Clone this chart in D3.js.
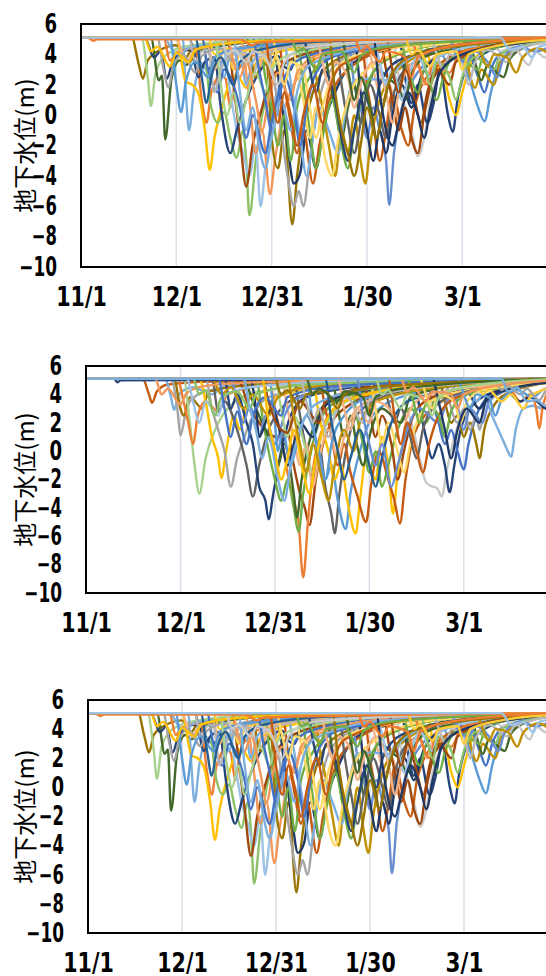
<!DOCTYPE html>
<html>
<head>
<meta charset="utf-8">
<script src="https://cdn.jsdelivr.net/npm/d3@7"></script>
<style>
  html, body { margin: 0; padding: 0; background: #fff; overflow: hidden; }
  svg { display: block; }
  .tick text {
    font-family: "DejaVu Sans Condensed", "DejaVu Sans", sans-serif;
    font-weight: bold;
    font-size: 26px;
    fill: #000;
  }
  .ylab { font-family: "Noto Sans CJK JP", sans-serif; font-size: 24px; fill: #000; }
</style>
</head>
<body>
<div id="chart"></div>
<script>
// x runs 11/1 .. 3/31, ticks every 30 days (3/31 lies past the right edge)
const startDate = "2018-11-01";
const endDate = "2019-03-31";
const xTicks = ["2018-11-01", "2018-12-01", "2018-12-31", "2019-01-30", "2019-03-01"];
const xTickLabels = ["11/1", "12/1", "12/31", "1/30", "3/1"];
const yTicks = [6, 4, 2, 0, -2, -4, -6, -8, -10];
const yLabel = "地下水位(m)";

// excel-ish series palette
const palette = [
  "#4472C4", "#ED7D31", "#A5A5A5", "#FFC000", "#5B9BD5", "#70AD47",
  "#264478", "#9E480E", "#636363", "#997300", "#255E91", "#43682B",
  "#698ED0", "#F1975A", "#B7B7B7", "#FFCD33", "#7CAFDD", "#8CC168",
  "#A9D18E", "#C55A11", "#F4B183", "#FFD966", "#9DC3E6", "#C9C9C9",
  "#BF9000", "#203864"
];

// wells of the 1st (and 3rd) chart: [day since 11/1, level, day, level, ...]
const wellsA = [
  [0,5.1, 16,5.1, 18,3.5, 19.5,2.4, 21,3.6, 25,4.3, 30,4.6, 33,3.8, 35,4.4, 45,4.8, 70,5.0, 150,5.1],
  [0,5.1, 19,5.1, 21,2.5, 22,0.6, 23.5,2.8, 27,4.0, 35,4.6, 60,5.0, 150,5.1],
  [0,5.1, 22,5.1, 24.5,2.3, 25.5,2.6, 26.5,-1.6, 28.5,2.4, 31,3.6, 33,3.3, 37,4.2, 45,4.6, 70,5.0, 150,5.1],
  [0,5.1, 20,5.1, 23,3.8, 25,4.2, 27,2.4, 29,3.6, 34,4.3, 40,3.0, 43,4.0, 55,4.6, 90,5.0, 150,5.1],
  [0,5.1, 32,5.1, 33,1.5, 34,-1.0, 35.5,1.5, 38,3.4, 42,2.0, 45,3.6, 55,4.4, 80,4.9, 150,5.1],
  [0,5.1, 26,5.1, 28,3.6, 30,4.1, 36,4.4, 38,1.0, 39.5,-0.5, 41,1.5, 44,2.6, 45.5,2.4, 47,0.5, 49,2.8, 55,4.0, 80,4.8, 150,5.1],
  [0,5.1, 30,5.1, 33,2.2, 35,2.0, 37,1.4, 39,-1.0, 40.5,-3.6, 42,-1.5, 45,1.0, 48,2.6, 50,2.4, 52,1.8, 55,3.4, 65,4.3, 100,5.0, 150,5.1],
  [0,5.1, 38,5.1, 41,0.5, 43,-0.5, 45,0.2, 47,-1.5, 49,-2.8, 51,-1.0, 52,-3.0, 53,-6.6, 55,-3.0, 57,0.0, 60,2.0, 65,3.5, 80,4.5, 120,5.0, 150,5.1],
  [0,5.1, 44,5.1, 47,1.5, 49,-1.0, 51,-2.5, 53,-4.0, 55,-2.0, 56.5,-6.0, 58,-3.5, 60,0.0, 64,2.5, 72,4.0, 100,4.9, 150,5.1],
  [0,5.1, 46,5.1, 48,2.0, 50,-1.5, 52,-4.7, 54,-2.0, 57,0.5, 60,2.5, 70,4.0, 100,4.9, 150,5.1],
  [0,5.1, 50,5.1, 53,1.0, 55,-2.5, 57,-1.0, 59.5,-5.2, 61,-3.0, 63,-0.5, 67,2.0, 75,3.8, 110,4.9, 150,5.1],
  [0,5.1, 34,5.1, 37,2.5, 39,3.5, 42,3.8, 44,0.5, 47,-2.5, 49,-1.0, 52,1.0, 56,2.8, 62,3.9, 64,3.2, 66,3.0, 68,4.2, 90,4.8, 150,5.1],
  [0,5.1, 52,5.1, 55,2.5, 57,3.5, 58.5,3.3, 60,-1.5, 62,-3.5, 64,-1.0, 66.5,-7.2, 68,-4.0, 70,-1.0, 73,1.5, 78,3.3, 90,4.3, 120,5.0, 150,5.1],
  [0,5.1, 58,5.1, 61,2.0, 63,-1.0, 65,-4.0, 67,-6.0, 68.5,-5.0, 70,-6.0, 72,-3.0, 74,0.0, 78,2.8, 88,4.2, 120,5.0, 150,5.1],
  [0,5.1, 60,5.1, 63,1.0, 65,-2.0, 67,-4.5, 69,-3.8, 71,-1.0, 74,-3.5, 76,-1.0, 80,1.5, 86,3.5, 110,4.8, 150,5.1],
  [0,5.1, 62,5.1, 64,2.0, 66,-0.5, 68,-2.5, 70,-1.0, 73,-4.5, 75,-2.0, 78,0.8, 84,3.0, 100,4.5, 150,5.1],
  [0,5.1, 56,5.1, 58,2.5, 60,0.5, 62,-2.0, 64,0.0, 66,-3.0, 68,0.5, 72,2.5, 80,4.0, 120,5.0, 150,5.1],
  [0,5.1, 84,5.1, 86,2.0, 88,0.5, 90,-1.5, 92,0.5, 94,-1.0, 96,-3.0, 97,-5.9, 98.5,-2.5, 101,0.5, 105,2.5, 112,3.8, 130,4.8, 150,5.1],
  [0,5.1, 72,5.1, 74,2.5, 76,0.5, 78,-2.0, 80,-4.0, 82,-1.0, 84,-2.5, 86,0.0, 88,-3.0, 89.5,-4.5, 91,-2.0, 94,1.0, 100,3.0, 115,4.5, 150,5.1],
  [0,5.1, 98,5.1, 100,2.5, 102,0.5, 104,-1.0, 106,-2.7, 108,-1.5, 110,1.0, 114,3.0, 125,4.5, 150,5.1],
  [0,5.1, 100,5.1, 102,2.5, 104,0.8, 106,2.0, 109,-0.5, 111,0.8, 113,3.0, 115.5,0.0, 117,-1.1, 118.5,1.0, 122,3.2, 135,4.7, 150,5.1],
  [0,5.1, 108,5.1, 111,2.5, 113,3.5, 116,1.0, 118,0.0, 120,1.5, 123,3.5, 130,4.5, 150,5.1],
  [0,5.1, 112,5.1, 115,3.5, 118,4.0, 122,2.5, 125,0.5, 127,-0.4, 129,1.5, 132,3.5, 140,4.5, 150,5.0],
  [0,5.1, 118,5.1, 120,3.5, 122,4.0, 125,2.5, 127,1.5, 129,3.0, 133,4.2, 145,4.8, 150,5.0],
  [0,5.1, 76,5.1, 78,2.5, 80,0.5, 82,-1.5, 84,0.5, 86,2.0, 88,-0.5, 90,1.5, 93,3.0, 100,2.0, 103,3.8, 120,4.7, 150,5.1],
  [0,5.1, 88,5.1, 90,2.0, 92,-0.5, 94,-3.0, 96,-1.0, 98,1.5, 101,-1.0, 103,-2.0, 105,0.5, 110,2.8, 125,4.5, 150,5.1],
  [0,5.1, 90,5.1, 92,3.0, 95,1.0, 97,2.0, 100,-0.5, 102,1.5, 106,3.2, 108,2.0, 111,3.8, 130,4.8, 150,5.1],
  [0,5.1, 80,5.1, 82,2.0, 84,-0.5, 86,-2.5, 88,-0.5, 91,2.0, 94,0.0, 96,-1.5, 98,1.0, 102,3.0, 120,4.7, 150,5.1],
  [0,5.1, 64,5.1, 65,3.5, 67,1.0, 69,-1.5, 71,-4.0, 73,-1.5, 75,0.5, 78,-1.0, 81,-2.5, 83,0.0, 86,2.3, 90,2.4, 96,2.3, 100,3.2, 110,4.3, 150,5.1],
  [0,5.1, 68,5.1, 70,2.0, 72,-1.0, 74,-3.5, 76,-1.5, 79,1.0, 82,-2.0, 84,-3.5, 86,-1.0, 90,2.0, 95,3.5, 115,4.7, 150,5.1],
  [0,5.1, 66,5.1, 68,3.0, 70,1.0, 72,-1.5, 74,0.5, 77,-3.0, 79,-4.0, 81,-1.5, 84,1.0, 90,3.0, 110,4.6, 150,5.1],
  [0,5.1, 94,5.1, 96,3.0, 98,1.0, 100,-1.0, 102,0.5, 104,-1.5, 106,-2.5, 108,0.0, 111,2.5, 118,3.8, 135,4.8, 150,5.1],
  [0,5.1, 86,5.1, 88,1.5, 90,-1.0, 92,-3.0, 94,-1.0, 96,-2.5, 98,0.0, 101,2.0, 104,0.5, 107,2.5, 112,3.8, 130,4.8, 150,5.1],
  [0,5.1, 120,5.1, 122,3.0, 124,1.8, 126,3.0, 130,2.0, 132,3.5, 137,4.3, 145,4.8, 150,5.0],
  [0,5.1, 122,5.1, 124,3.5, 126,2.3, 128,3.3, 133,2.5, 135,3.7, 140,4.5, 150,5.0],
  [0,5.1, 128,5.1, 132,4.2, 136,4.5, 141,3.3, 143,4.2, 146,3.8, 150,4.3],
  [0,5.1, 26,5.1, 30,4.0, 35,4.5, 43,4.6, 45,2.5, 47,4.0, 50,4.2, 52,2.0, 54,3.5, 60,4.6, 80,5.0, 150,5.1],
  [0,5.1, 38,5.1, 40,3.0, 43,1.5, 45,3.0, 50,0.5, 52,-1.5, 54,0.0, 58,-2.5, 60,-0.5, 63,2.0, 70,3.8, 100,4.9, 150,5.1],
  [0,5.1, 30,5.1, 33,3.5, 36,4.3, 40,4.5, 42,3.0, 45,4.2, 54,4.5, 56,3.2, 58,4.2, 70,4.7, 150,5.1],
  [0,5.1, 40,5.1, 42,4.0, 46,4.4, 48,3.0, 50,4.0, 55,4.4, 60,3.2, 62,4.3, 80,4.8, 150,5.1],
  [0,5.1, 34,5.1, 36,3.5, 38,4.2, 40,4.3, 42,1.5, 44,3.0, 48,4.0, 52,4.1, 54,2.5, 56,3.8, 70,4.6, 150,5.1],
  [0,5.1, 100,5.1, 103,3.0, 106,1.5, 108,3.0, 112,1.0, 114,2.5, 118,4.0, 125,3.0, 127,4.2, 140,4.8, 150,5.1],
  [0,5.1, 104,5.1, 106,3.5, 109,2.0, 111,3.5, 116,2.8, 119,4.0, 130,4.7, 150,5.1],
  [0,5.1, 24,5.1, 26,3.0, 27.5,1.8, 29,3.2, 32,4.0, 36,2.8, 38,3.9, 44,4.4, 48,3.5, 50,4.3, 70,4.8, 150,5.1],
  [0,5.1, 28,5.1, 30,2.0, 31.5,0.2, 33,2.2, 36,3.5, 40,2.5, 42,3.8, 50,4.4, 90,5.0, 150,5.1],
  [0,5.1, 42,5.1, 44,2.0, 46,0.0, 48,1.5, 50,-0.5, 52,1.0, 55,2.8, 58,1.5, 60,3.0, 66,4.0, 100,4.9, 150,5.1],
  [0,5.1, 46,5.1, 48,3.5, 50,2.5, 52,3.5, 55,1.0, 57,-1.0, 59,1.0, 62,2.8, 66,1.0, 68,2.8, 75,4.0, 110,4.9, 150,5.1],
  [0,5.1, 54,5.1, 56,3.0, 58,1.0, 60,-1.0, 62,0.5, 64,2.5, 67,0.5, 69,-2.0, 71,0.5, 74,2.8, 80,3.9, 110,4.8, 150,5.1],
  [0,5.1, 60,5.1, 62,3.5, 64,2.0, 66,3.5, 70,3.0, 72,0.5, 74,-1.5, 76,0.5, 79,2.5, 85,3.8, 120,4.9, 150,5.1],
  [0,5.1, 70,5.1, 72,3.0, 74,1.5, 76,3.0, 80,1.0, 82,-1.5, 84,-3.0, 86,-1.0, 89,1.5, 92,0.0, 94,2.0, 100,3.6, 125,4.8, 150,5.1],
  [0,5.1, 74,5.1, 76,3.5, 78,2.0, 80,3.5, 84,2.5, 86,0.5, 88,2.0, 92,3.5, 96,1.5, 98,-0.5, 100,1.5, 104,3.3, 120,4.5, 150,5.1],
  [0,5.1, 82,5.1, 84,3.0, 86,1.0, 88,2.5, 91,0.5, 93,-1.5, 95,0.5, 98,2.5, 102,1.0, 104,2.8, 110,4.0, 135,4.8, 150,5.1],
  [0,5.1, 92,5.1, 94,3.5, 96,2.0, 98,3.0, 101,1.0, 103,2.5, 106,3.8, 110,2.5, 112,3.8, 125,4.6, 150,5.1],
  [0,5.1, 96,5.1, 98,3.0, 100,1.5, 102,3.0, 105,1.0, 107,-0.5, 109,1.5, 112,3.0, 116,2.0, 118,3.5, 130,4.6, 150,5.1],
  [0,5.1, 106,5.1, 108,3.5, 110,2.0, 112,3.5, 116,2.5, 118,1.0, 120,2.5, 124,3.8, 130,3.0, 132,4.0, 145,4.8, 150,5.0],
  [0,5.1, 110,5.1, 112,4.0, 114,3.0, 116,4.0, 120,3.5, 122,2.0, 124,3.5, 128,4.3, 134,3.5, 136,4.2, 150,4.9],
  [0,5.1, 116,5.1, 118,4.0, 121,3.5, 124,4.2, 128,3.5, 131,2.5, 133,3.8, 138,4.5, 143,4.2, 150,4.8],
  [0,5.1, 124,5.1, 126,4.0, 128,3.2, 130,4.0, 134,3.8, 137,2.8, 139,3.8, 144,4.4, 148,4.0, 150,4.4],
  [0,5.1, 36,5.1, 38,2.5, 39.5,0.8, 41,2.5, 44,3.8, 48,2.0, 50,3.5, 56,4.3, 80,4.9, 150,5.1],
  [0,5.1, 48,5.1, 50,1.5, 52,-1.0, 54,0.5, 56,-2.0, 58,-3.5, 60,-1.5, 63,1.0, 66,-1.0, 68,1.5, 72,3.3, 95,4.6, 150,5.1],
  [0,5.1, 58,5.1, 60,1.5, 62,-0.5, 64,1.5, 66,0.0, 68,-2.0, 70,0.0, 73,2.0, 76,-0.5, 78,1.5, 82,3.3, 105,4.7, 150,5.1],
  [0,5.1, 78,5.1, 80,1.5, 82,-1.0, 84,-2.5, 86,-4.0, 88,-2.0, 90,0.5, 93,-1.5, 95,0.5, 98,2.8, 105,4.0, 130,4.8, 150,5.1],
  [0,5.1, 92,5.1, 94,1.5, 96,-1.0, 98,-2.0, 100,-0.5, 103,1.5, 106,0.0, 108,-1.5, 110,0.5, 113,2.8, 120,4.0, 140,4.8, 150,5.1],
  [0,5.1, 20,5.1, 22,4.2, 24,4.5, 28,3.2, 30,4.1, 34,3.5, 36,4.3, 45,4.7, 60,4.9, 150,5.1],
  [0,5.1, 44,5.1, 46,4.0, 48,4.3, 52,3.5, 54,4.2, 58,3.8, 62,2.0, 64,3.5, 70,4.4, 90,4.8, 150,5.1],
  [0,5.1, 66,5.1, 68,4.2, 70,4.4, 74,3.0, 76,4.0, 82,4.2, 86,2.8, 88,3.9, 96,4.5, 150,5.1],
  [0,5.1, 86,5.1, 88,4.2, 90,4.5, 94,3.5, 96,4.2, 102,3.8, 104,2.5, 106,3.8, 115,4.5, 150,5.1],
  [0,5.1, 102,5.1, 104,4.0, 106,4.3, 110,3.2, 112,4.0, 118,4.2, 120,3.0, 122,4.0, 132,4.6, 150,5.0],
  [0,5.1, 2,5.1, 4,4.9, 5,5.0, 50,5.0, 54,4.6, 56,4.8, 150,5.1],
  [0,5.1, 132,5.1, 135,4.3, 139,4.5, 142,3.8, 144,4.5, 150,4.7]
];
const wellsAColor = [9, 18, 11, 6, 16, 1, 3, 17, 22, 7, 13, 6, 9, 2, 25, 19, 5, 12, 24, 23, 6, 3,
  4, 0, 11, 19, 20, 8, 16, 5, 21, 7, 25, 24, 11, 23, 16, 0, 20, 15, 14, 5, 1,
  2, 4, 18, 13, 0, 21, 6, 20, 11, 22, 7, 17, 14, 12, 24, 10, 16, 19, 9, 25, 3, 23, 5, 1, 15, 1, 22];

// wells of the 2nd chart
const wellsB = [
  [0,5.1, 18,5.1, 20,4.0, 21,3.4, 22.5,4.2, 26,4.7, 40,4.9, 150,5.1],
  [0,5.1, 25,5.1, 27,3.8, 28,2.9, 29.5,4.0, 34,4.5, 40,4.0, 44,4.6, 70,4.9, 150,5.1],
  [0,5.1, 27,5.1, 29,3.0, 30,1.1, 31.5,2.5, 33,3.5, 38,4.2, 60,4.8, 150,5.1],
  [0,5.1, 28,5.1, 30,3.0, 31,2.5, 33,3.8, 37,3.0, 39,4.2, 55,4.7, 150,5.1],
  [0,5.1, 31,5.1, 33,2.0, 34.5,-1.0, 36,-3.0, 38,-0.5, 41,1.5, 45,3.0, 55,4.2, 90,4.9, 150,5.1],
  [0,5.1, 29,5.1, 31,3.5, 32.5,2.0, 34,0.5, 35.5,2.5, 38,3.5, 42,2.8, 45,4.0, 60,4.7, 150,5.1],
  [0,5.1, 36,5.1, 38,3.5, 40,1.0, 42,-0.5, 43,-1.9, 44.5,0.0, 47,2.5, 49,1.5, 51,3.0, 56,2.0, 60,3.8, 80,4.6, 150,5.1],
  [0,5.1, 38,5.1, 40,3.0, 42,1.5, 44,0.0, 46,-2.5, 48,-0.5, 50,0.8, 53,2.5, 58,3.8, 80,4.7, 150,5.1],
  [0,5.1, 40,5.1, 42,2.8, 44,3.5, 48,1.5, 51,-1.0, 53,-3.2, 55,-1.0, 58,1.5, 62,3.0, 70,4.0, 100,4.8, 150,5.1],
  [0,5.1, 44,5.1, 46,3.0, 48,4.0, 51,2.0, 53,0.5, 55,-2.5, 57,-3.5, 58,-4.8, 59.5,-3.0, 62,0.0, 65,2.5, 70,3.8, 90,4.6, 150,5.1],
  [0,5.1, 48,5.1, 52,3.0, 55,2.0, 58,1.2, 61,1.0, 64,1.3, 66,-1.0, 68,-3.0, 69.5,-4.0, 71,-5.2, 73,-2.0, 76,1.0, 82,3.0, 100,4.5, 150,5.1],
  [0,5.1, 58,5.1, 60,3.0, 62,1.0, 64,-1.5, 66,-3.5, 67.5,-5.0, 69,-8.9, 70.5,-5.0, 72,-1.5, 75,1.5, 80,3.2, 95,4.4, 150,5.1],
  [0,5.1, 54,5.1, 56,2.5, 58,0.0, 60,-2.0, 62,-3.5, 64,-2.0, 66,-4.0, 67.5,-5.7, 69,-3.0, 72,0.5, 76,2.8, 85,4.0, 110,4.8, 150,5.1],
  [0,5.1, 50,5.1, 53,3.5, 56,2.0, 59,0.5, 61,-1.0, 63,0.5, 66,-3.0, 67,-4.7, 68.5,-2.0, 72,1.5, 76,3.3, 90,4.3, 150,5.1],
  [0,5.1, 66,5.1, 68,2.5, 70,0.0, 72,-2.0, 74,0.5, 76,-2.5, 78,-4.5, 79,-5.8, 80.5,-3.0, 83,0.5, 87,2.8, 100,4.2, 150,5.1],
  [0,5.1, 70,5.1, 72,2.0, 74,-0.5, 76,-2.0, 78,-1.0, 80,-3.5, 82.5,-5.5, 84,-3.0, 87,0.0, 91,2.5, 100,3.8, 120,4.7, 150,5.1],
  [0,5.1, 72,5.1, 74,2.5, 77,0.0, 79,-2.0, 81,-1.0, 83,-3.5, 85.7,-5.8, 87,-3.5, 89,-0.5, 92,-2.0, 94,1.0, 96,-1.0, 97.5,-4.4, 99,-1.5, 102,1.5, 108,3.5, 130,4.7, 150,5.1],
  [0,5.1, 74,5.1, 76,3.0, 78,1.0, 80,-1.0, 82,0.5, 84,-1.5, 86,-3.0, 89,-5.0, 90.5,-2.5, 93,0.0, 96,-2.0, 98,-3.5, 99.7,-5.1, 101.5,-2.0, 104,1.0, 110,3.0, 125,4.5, 150,5.1],
  [0,5.1, 100,5.1, 102,3.0, 104,1.5, 106,-0.5, 108,-2.2, 110,-2.5, 111.5,-2.6, 113,-3.2, 114.5,-1.5, 117,1.0, 121,3.0, 135,4.5, 150,5.1],
  [0,5.1, 104,5.1, 106,3.0, 108,1.0, 110,-0.5, 112,0.5, 114,-1.0, 115.5,-2.9, 117,-1.0, 119,1.5, 122,3.0, 130,4.2, 150,4.9],
  [0,5.1, 108,5.1, 110,3.5, 112,2.0, 114,0.5, 116,1.5, 118,0.0, 120,-1.3, 121.5,0.5, 124,2.5, 128,3.8, 140,4.6, 150,5.0],
  [0,5.1, 112,5.1, 114,3.5, 116,2.0, 118,2.5, 120,1.0, 122,2.0, 124,0.5, 125,-0.5, 126.5,1.5, 129,3.0, 135,4.2, 150,4.9],
  [0,5.1, 122,5.1, 124,3.5, 126,4.0, 129,2.5, 132,1.0, 134,0.0, 135,-0.4, 136.5,1.5, 139,3.0, 142,3.2, 145,3.0, 148,3.6, 150,3.8],
  [0,5.1, 128,5.1, 131,4.0, 134,4.5, 138,3.5, 141,4.0, 143,3.0, 144,1.6, 145,3.0, 147,4.2, 150,4.5],
  [0,5.1, 114,5.1, 116,3.0, 118,2.0, 120,3.0, 122,1.5, 124,2.5, 125,1.5, 127,3.5, 132,4.2, 150,4.9],
  [0,5.1, 120,5.1, 122,4.0, 125,3.0, 128,4.0, 133,4.3, 138,3.5, 141,3.8, 146,3.0, 148,2.8, 150,3.2],
  [0,5.1, 116,5.1, 118,3.2, 120,1.5, 122,3.0, 126,2.0, 128,3.5, 134,4.3, 150,5.0],
  [0,5.1, 84,5.1, 86,2.5, 88,0.5, 90,-1.5, 92,0.0, 94,-2.5, 96,-1.0, 99,1.5, 103,3.0, 108,2.0, 111,3.6, 130,4.7, 150,5.1],
  [0,5.1, 88,5.1, 90,3.0, 92,1.0, 94,2.5, 97,0.5, 99,-2.0, 101,0.0, 104,2.5, 110,3.8, 130,4.7, 150,5.1],
  [0,5.1, 78,5.1, 80,3.0, 82,1.0, 84,2.5, 86,0.5, 88,-1.0, 90,1.0, 94,3.0, 100,2.0, 103,3.8, 120,4.7, 150,5.1],
  [0,5.1, 62,5.1, 64,3.0, 66,1.0, 68,-1.0, 70,0.5, 72,-2.5, 74,-0.5, 77,1.5, 80,-0.5, 82,1.0, 86,3.0, 100,4.3, 150,5.1],
  [0,5.1, 46,5.1, 48,3.5, 50,2.0, 52,3.2, 55,1.0, 57,2.5, 60,0.5, 63,2.5, 68,3.8, 90,4.7, 150,5.1],
  [0,5.1, 52,5.1, 54,3.0, 55,1.0, 57,2.0, 59,3.0, 62,1.0, 64,-1.0, 66,0.5, 68,2.0, 72,1.0, 75,3.0, 85,4.2, 120,4.9, 150,5.1],
  [0,5.1, 58,5.1, 60,2.0, 61,0.0, 62.5,1.5, 65,-1.0, 67,0.5, 70,2.5, 74,0.0, 76,-2.0, 78,0.5, 82,2.5, 90,3.8, 120,4.8, 150,5.1],
  [0,5.1, 90,5.1, 92,3.0, 94,0.5, 96,2.0, 99,0.0, 101,-1.5, 103,0.5, 106,2.5, 112,3.8, 135,4.7, 150,5.1],
  [0,5.1, 94,5.1, 96,3.5, 98,2.0, 100,3.0, 103,1.0, 105,-0.5, 107,1.5, 110,3.0, 118,4.0, 140,4.8, 150,5.0],
  [0,5.1, 60,5.1, 62,3.0, 64,1.0, 66,2.5, 70,0.0, 72,-1.5, 74,0.5, 78,2.5, 86,3.8, 110,4.7, 150,5.1],
  [0,5.1, 40,5.1, 43,4.0, 46,4.5, 50,3.0, 53,4.0, 58,2.5, 61,3.8, 70,4.5, 150,5.1],
  [0,5.1, 56,5.1, 58,3.5, 60,2.2, 62,1.5, 64,1.3, 66,2.5, 68,3.5, 74,2.0, 76,3.5, 90,4.5, 150,5.1],
  [0,5.1, 9,5.1, 10,4.85, 11,5.0, 150,5.1],
  [0,5.1, 22,5.1, 24,4.0, 26,4.4, 30,3.3, 32,4.1, 38,4.6, 60,4.9, 150,5.1],
  [0,5.1, 32,5.1, 34,3.5, 36,2.0, 38,3.5, 42,2.5, 44,3.9, 52,4.5, 80,4.9, 150,5.1],
  [0,5.1, 34,5.1, 36,4.0, 38,4.3, 41,2.5, 43,3.8, 48,4.2, 52,3.0, 54,4.0, 70,4.7, 150,5.1],
  [0,5.1, 42,5.1, 44,3.0, 46,1.0, 48,2.8, 51,0.5, 53,2.5, 57,3.8, 62,2.5, 64,3.8, 80,4.6, 150,5.1],
  [0,5.1, 50,5.1, 52,3.0, 54,1.5, 56,-0.5, 58,1.0, 61,-2.0, 63,-3.5, 65,-1.0, 68,1.5, 73,3.3, 90,4.4, 150,5.1],
  [0,5.1, 56,5.1, 58,2.0, 60,0.0, 62,-2.0, 64,-0.5, 66,1.5, 69,-1.5, 71,-3.0, 73,-0.5, 76,2.0, 82,3.5, 110,4.7, 150,5.1],
  [0,5.1, 64,5.1, 66,2.5, 68,0.5, 70,-1.5, 72,0.5, 75,-2.0, 77,-3.5, 79,-1.0, 82,1.5, 85,0.0, 87,2.0, 93,3.6, 120,4.7, 150,5.1],
  [0,5.1, 68,5.1, 70,3.5, 72,2.0, 74,3.0, 77,1.0, 79,2.5, 83,3.8, 88,2.0, 90,3.5, 100,4.3, 150,5.1],
  [0,5.1, 76,5.1, 78,2.0, 80,0.0, 82,-2.0, 84,-0.5, 87,1.5, 90,-1.0, 92,-2.5, 94,-0.5, 97,2.0, 103,3.6, 130,4.7, 150,5.1],
  [0,5.1, 80,5.1, 82,3.0, 84,1.5, 86,3.0, 90,2.0, 92,3.5, 98,2.5, 100,0.5, 102,2.5, 107,3.8, 130,4.7, 150,5.1],
  [0,5.1, 86,5.1, 88,2.5, 90,0.5, 92,-1.0, 94,0.5, 97,-2.5, 99,-1.0, 102,1.5, 106,3.0, 112,2.0, 115,3.6, 135,4.7, 150,5.1],
  [0,5.1, 96,5.1, 98,2.5, 100,0.5, 102,2.0, 105,0.0, 107,-1.5, 109,0.5, 112,2.5, 118,3.8, 140,4.8, 150,5.0],
  [0,5.1, 102,5.1, 104,3.5, 106,2.0, 108,3.3, 112,2.5, 114,1.0, 116,2.8, 120,3.9, 130,4.4, 150,5.0],
  [0,5.1, 106,5.1, 108,4.0, 110,3.0, 112,4.0, 117,3.5, 119,2.0, 121,3.5, 126,4.3, 140,4.7, 150,4.9],
  [0,5.1, 110,5.1, 112,3.5, 114,1.5, 116,-0.5, 118,1.5, 121,3.0, 125,2.0, 127,3.5, 135,4.4, 150,4.9],
  [0,5.1, 118,5.1, 120,4.0, 122,3.0, 124,4.0, 128,3.8, 130,2.5, 132,3.6, 137,4.3, 142,3.8, 145,4.3, 150,4.6],
  [0,5.1, 124,5.1, 126,4.0, 128,4.3, 132,3.5, 135,4.0, 139,3.0, 141,3.8, 145,4.3, 150,4.6],
  [0,5.1, 130,5.1, 132,4.3, 134,4.6, 138,4.0, 140,4.4, 144,3.6, 146,4.2, 150,4.5],
  [0,5.1, 60,5.1, 62,4.0, 64,4.3, 68,3.0, 70,4.0, 76,4.2, 80,3.0, 82,4.0, 92,4.5, 150,5.1],
  [0,5.1, 70,5.1, 72,4.0, 74,4.4, 80,3.5, 82,4.2, 88,3.8, 90,2.5, 92,3.8, 100,4.4, 150,5.1],
  [0,5.1, 92,5.1, 94,4.0, 96,4.3, 100,3.0, 102,4.0, 108,3.5, 110,2.5, 112,3.8, 120,4.5, 150,5.1],
  [0,5.1, 100,5.1, 102,4.2, 104,4.5, 108,3.5, 110,4.2, 116,4.0, 118,3.0, 120,4.0, 130,4.6, 150,5.0],
  [0,5.1, 132,5.1, 134,4.2, 137,4.5, 140,3.5, 143,3.6, 146,3.2, 150,3.6]
];
const wellsBColor = [19, 16, 2, 9, 18, 1, 3, 2, 8, 6, 7, 1, 5, 11, 8, 4, 3, 19, 23, 6, 0, 9,
  16, 1, 2, 25, 12, 5, 7, 11, 20, 12, 25, 4, 21, 8, 18, 24, 7,
  6, 13, 22, 17, 0, 16, 3, 24, 14, 10, 20, 12, 19, 5, 21, 25, 4, 15, 2, 9, 11, 18, 13, 16];

const panels = [
  { top: 24, bottom: 267, left: 81, right: 557.6, wells: wellsA, colors: wellsAColor },
  { top: 366, bottom: 593, left: 86, right: 558.2, wells: wellsB, colors: wellsBColor },
  { top: 700, bottom: 933, left: 88, right: 558, wells: wellsA, colors: wellsAColor }
];

const parse = d3.utcParse("%Y-%m-%d");
const t0 = parse(startDate);
const dayToDate = (d) => new Date(+t0 + d * 864e5);

const svg = d3.select("#chart").append("svg")
  .attr("width", 546)
  .attr("height", 976);

panels.forEach((p, k) => {
  const x = d3.scaleUtc().domain([t0, parse(endDate)]).range([p.left, p.right]);
  const y = d3.scaleLinear().domain([-10, 6]).range([p.bottom, p.top]);
  const g = svg.append("g");

  // vertical gridlines
  g.selectAll("line.grid")
    .data(xTicks.slice(1).map(parse))
    .join("line")
    .attr("class", "grid")
    .attr("x1", (d) => x(d)).attr("x2", (d) => x(d))
    .attr("y1", p.top).attr("y2", p.bottom)
    .attr("stroke", "#D9DFE8")
    .attr("stroke-width", 1.5);

  g.append("clipPath").attr("id", "clip" + k)
    .append("rect")
    .attr("x", p.left).attr("y", p.top)
    .attr("width", p.right - p.left).attr("height", p.bottom - p.top);

  const line = d3.line()
    .x((d) => x(dayToDate(d[0])))
    .y((d) => y(d[1]))
    .curve(d3.curveMonotoneX);

  const series = p.wells.map((a) => d3.range(0, a.length, 2).map((i) => [a[i], a[i + 1]]));

  g.append("g").attr("clip-path", `url(#clip${k})`)
    .selectAll("path")
    .data(series)
    .join("path")
    .attr("d", line)
    .attr("fill", "none")
    .attr("stroke", (d, i) => palette[p.colors[i]])
    .attr("stroke-width", 2.4)
    .attr("stroke-linejoin", "round");

  // frame
  g.append("rect")
    .attr("x", p.left).attr("y", p.top)
    .attr("width", p.right - p.left).attr("height", p.bottom - p.top)
    .attr("fill", "none")
    .attr("stroke", "#000")
    .attr("stroke-width", 2);

  const xAxis = g.append("g")
    .attr("transform", `translate(0,${p.bottom})`)
    .call(d3.axisBottom(x)
      .tickValues(xTicks.map(parse))
      .tickFormat((d, i) => xTickLabels[i])
      .tickSize(0)
      .tickPadding(21));

  const yAxis = g.append("g")
    .attr("transform", `translate(${p.left},0)`)
    .call(d3.axisLeft(y).tickValues(yTicks).tickSize(0).tickPadding(24));

  // squeeze the glyphs to a narrow, fixed pitch
  [xAxis, yAxis].forEach((ax) => {
    ax.select(".domain").remove();
    ax.selectAll(".tick text")
      .attr("textLength", function () { return this.textContent.length * 12.6; })
      .attr("lengthAdjust", "spacingAndGlyphs");
  });

  g.append("text")
    .attr("class", "ylab")
    .attr("transform", `translate(23,${(p.top + p.bottom) / 2}) rotate(-90)`)
    .attr("text-anchor", "middle")
    .attr("dominant-baseline", "central")
    .text(yLabel);
});
</script>
</body>
</html>
